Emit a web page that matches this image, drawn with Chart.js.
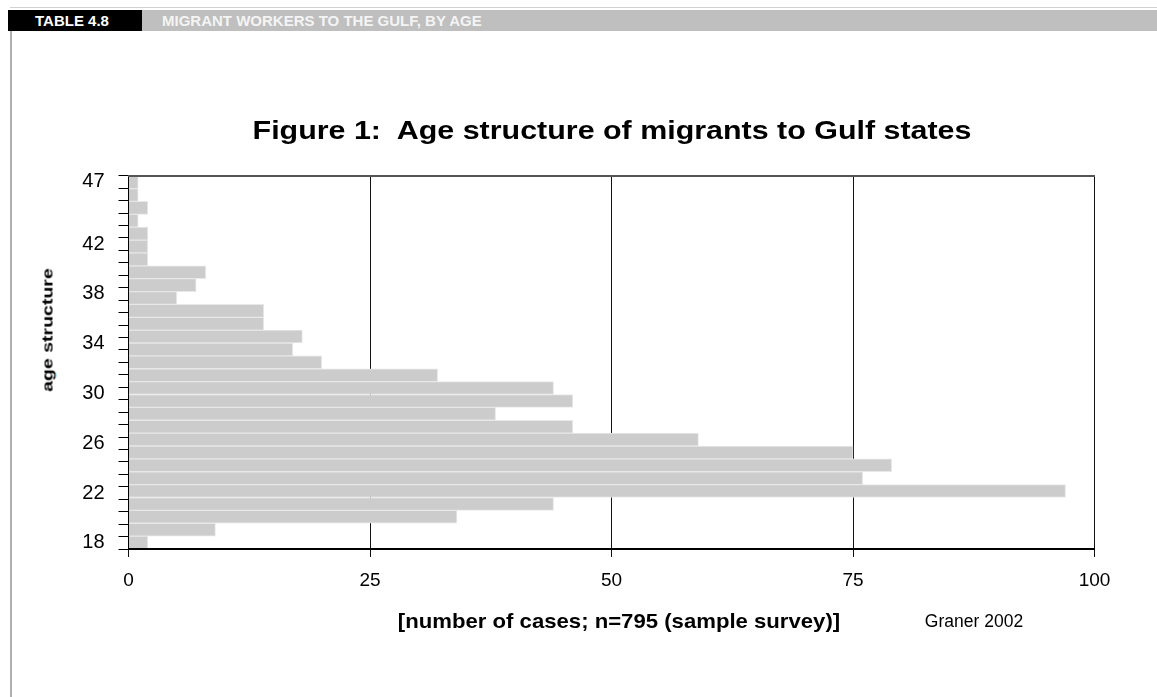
<!DOCTYPE html>
<html>
<head>
<meta charset="utf-8">
<title>Migrant workers to the Gulf, by age</title>
<script src="https://cdn.jsdelivr.net/npm/chart.js@4.4.0/dist/chart.umd.min.js"></script>
<style>
    body { margin: 0; background: #fff; font-family: Arial, "Liberation Sans", sans-serif; }
    #page { position: relative; width: 1157px; height: 697px; overflow: hidden; }
    #page canvas { position: absolute; left: 0; top: 0; }
    .top-rule { position: absolute; left: 10px; right: 0; top: 7px; height: 1px; background: #d0d0d0; }
    .side-rule { position: absolute; left: 10px; top: 31px; bottom: 0; width: 2px; background: #b0b0b0; }
    .hdr-num { position: absolute; left: 8px; top: 10px; width: 134px; height: 21px; background: #000; color: #fff;
               font-weight: bold; font-size: 15px; line-height: 21px; padding-left: 27px; box-sizing: border-box; }
    .hdr-text { position: absolute; left: 142px; right: 0; top: 10px; height: 21px; background: #bfbfbf; color: #f4f4f4;
                font-weight: bold; font-size: 15px; line-height: 21px; padding-left: 20px; box-sizing: border-box; white-space: nowrap; }
    .txt { position: absolute; white-space: nowrap; color: #000; transform: translate(-50%, -50%); }
    #figTitle { left: 612px; top: 130px; font-size: 26px; font-weight: bold;
                transform: translate(-50%, -50%) scale(1.17, 1); }
    #yTitle { left: 47px; top: 330px; font-size: 15px; font-weight: bold;
              transform: translate(-50%, -50%) rotate(-90deg) scale(1.3, 1); }
    #xTitle { left: 619px; top: 621px; font-size: 20.5px; font-weight: bold;
              transform: translate(-50%, -50%) scale(1.08, 1); }
    #source { left: 974px; top: 621px; font-size: 17.5px; }
</style>
</head>
<body>
<div id="page">
    <div class="top-rule"></div>
    <div class="side-rule"></div>
    <div class="hdr-num">TABLE 4.8</div>
    <div class="hdr-text">MIGRANT WORKERS TO THE GULF, BY AGE</div>
    <canvas id="ageChart" width="1157" height="697"></canvas>
    <div class="txt" id="figTitle">Figure 1:&nbsp; Age structure of migrants to Gulf states</div>
    <div class="txt" id="yTitle">age structure</div>
    <div class="txt" id="xTitle">[number of cases; n=795 (sample survey)]</div>
    <div class="txt" id="source">Graner 2002</div>
</div>
<script>
// ages 18..46, one bar per year of age
const ages = [18, 19, 20, 21, 22, 23, 24, 25, 26, 27, 28, 29, 30, 31, 32,
              33, 34, 35, 36, 37, 38, 39, 40, 41, 42, 43, 44, 45, 46];
// number of cases per age (sum = 795)
const cases = [2, 9, 34, 44, 97, 76, 79, 75, 59, 46, 38, 46, 44, 32, 20,
               17, 18, 14, 14, 5, 7, 8, 2, 2, 2, 1, 2, 1, 1];
// labels printed on the age axis
const ageTickLabels = [18, 22, 26, 30, 34, 38, 42, 47];
const ageRange = [18, 47];
const caseRange = [0, 100];
const caseStep = 25;

const FONT = 'Arial, "Liberation Sans", sans-serif';

function initializeChart() {
    const ctx = document.getElementById('ageChart').getContext('2d');
    new Chart(ctx, {
        type: 'bar',
        data: {
            labels: ages,
            datasets: [{
                data: cases,
                backgroundColor: '#cccccc',
                borderColor: '#e8e8e8',
                borderWidth: 1,
                borderSkipped: 'start',
                barPercentage: 1,
                categoryPercentage: 1
            }]
        },
        options: {
            indexAxis: 'y',
            responsive: false,
            animation: false,
            layout: {
                padding: { left: 34.5, right: 62.5, top: 175.7, bottom: 98 }
            },
            plugins: {
                legend: { display: false },
                tooltip: { enabled: false }
            },
            scales: {
                y: {
                    type: 'category',
                    reverse: true,
                    offset: true,
                    display: false
                },
                yAge: {
                    type: 'linear',
                    position: 'left',
                    min: ageRange[0],
                    max: ageRange[1],
                    afterFit: scale => { scale.width = 94; },
                    ticks: {
                        stepSize: 1,
                        autoSkip: false,
                        padding: 14,
                        color: '#000',
                        font: { family: FONT, size: 20 },
                        callback: v => ageTickLabels.includes(v) ? String(v) : ''
                    },
                    grid: {
                        drawOnChartArea: false,
                        tickLength: 10,
                        color: '#000',
                        lineWidth: 1
                    },
                    border: { color: '#000', width: 1, z: 1 }
                },
                x: {
                    type: 'linear',
                    position: 'bottom',
                    min: caseRange[0],
                    max: caseRange[1],
                    afterFit: scale => { scale.height = 50; },
                    ticks: {
                        stepSize: caseStep,
                        padding: 12,
                        color: '#000',
                        font: { family: FONT, size: 19 }
                    },
                    grid: {
                        color: '#111',
                        lineWidth: 1,
                        tickLength: 8
                    },
                    border: { color: '#000', width: 2, z: 1 }
                },
                xTop: {
                    type: 'linear',
                    position: 'top',
                    min: caseRange[0],
                    max: caseRange[1],
                    afterFit: scale => { scale.height = 0; },
                    ticks: { display: false },
                    grid: { display: false },
                    border: { color: '#555', width: 2, z: 1 }
                }
            }
        }
    });
}

document.addEventListener('DOMContentLoaded', initializeChart);
</script>
</body>
</html>
